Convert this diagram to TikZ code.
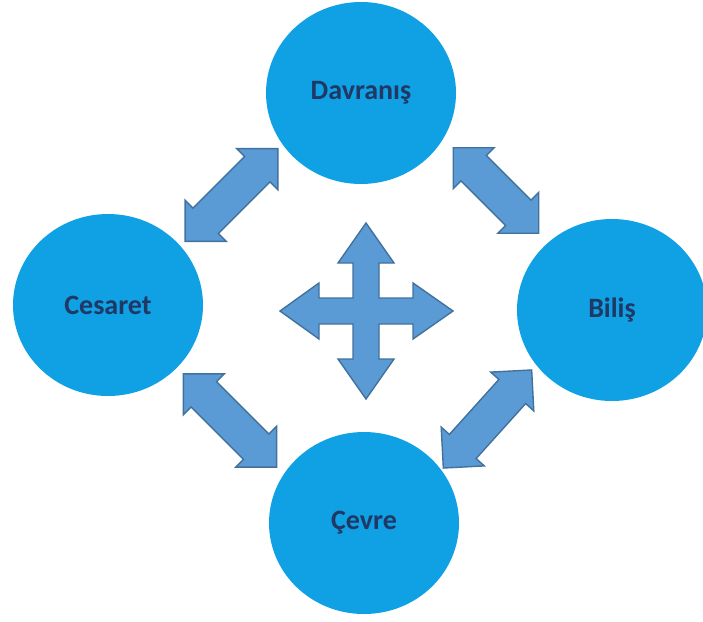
\documentclass[tikz,border=0pt]{standalone}
\usepackage{fontspec}
\setmainfont{Carlito}
\usetikzlibrary{shapes.geometric}
\definecolor{circblue}{RGB}{16,160,228}
\definecolor{arrowfill}{RGB}{91,155,213}
\definecolor{arrowline}{RGB}{65,113,156}
\definecolor{textnavy}{RGB}{31,56,100}

\begin{document}
\begin{tikzpicture}[x=1pt, y=-1pt,
  bubble/.style={ellipse, fill=circblue, minimum width=190pt, minimum height=182pt,
    inner sep=0pt, text=textnavy, font=\fontsize{28}{30}\selectfont\bfseries},
  blockarrow/.style={fill=arrowfill, draw=arrowline, line width=1.4pt, line join=miter}]

  \useasboundingbox (0,0) rectangle (703,621);

  \newcommand\HL{29}  % head length
  \newcommand\HW{29}  % half head width
  \newcommand\SW{18}  % half shaft width
  % #1 centre, #2 angle, #3 half length
  \newcommand\twoway[3]{%
    \draw[blockarrow, shift={#1}, rotate=#2]
      (-#3,0) -- (-#3+\HL,\HW) -- (-#3+\HL,\SW) -- (#3-\HL,\SW) -- (#3-\HL,\HW)
      -- (#3,0) -- (#3-\HL,-\HW) -- (#3-\HL,-\SW) -- (-#3+\HL,-\SW) -- (-#3+\HL,-\HW) -- cycle;}

  \node[bubble] (davranis) at (361,93)  {Davranış};
  \node[bubble] (cesaret)  at (108,305) {Cesaret};
  \node[bubble] (bilis)    at (612,310) {Biliş};
  \node[bubble] (cevre)    at (364,523) {Çevre};

  \twoway{(231.5,195)}{45}{65.5}
  \twoway{(496,190.5)}{-45}{60.5}
  \twoway{(230,420.5)}{-45}{66}
  \twoway{(487.5,419)}{48}{66}

  % four way arrow in the middle
  \draw[blockarrow, shift={(366,311)}]
    (0,-88) -- (28,-48) -- (13,-48) -- (13,-13) -- (47,-13) -- (47,-28)
    -- (87,0) -- (47,28) -- (47,13) -- (13,13) -- (13,48) -- (28,48)
    -- (0,88) -- (-28,48) -- (-13,48) -- (-13,13) -- (-47,13) -- (-47,28)
    -- (-86,0) -- (-47,-28) -- (-47,-13) -- (-13,-13) -- (-13,-48) -- (-28,-48) -- cycle;
\end{tikzpicture}
\end{document}
